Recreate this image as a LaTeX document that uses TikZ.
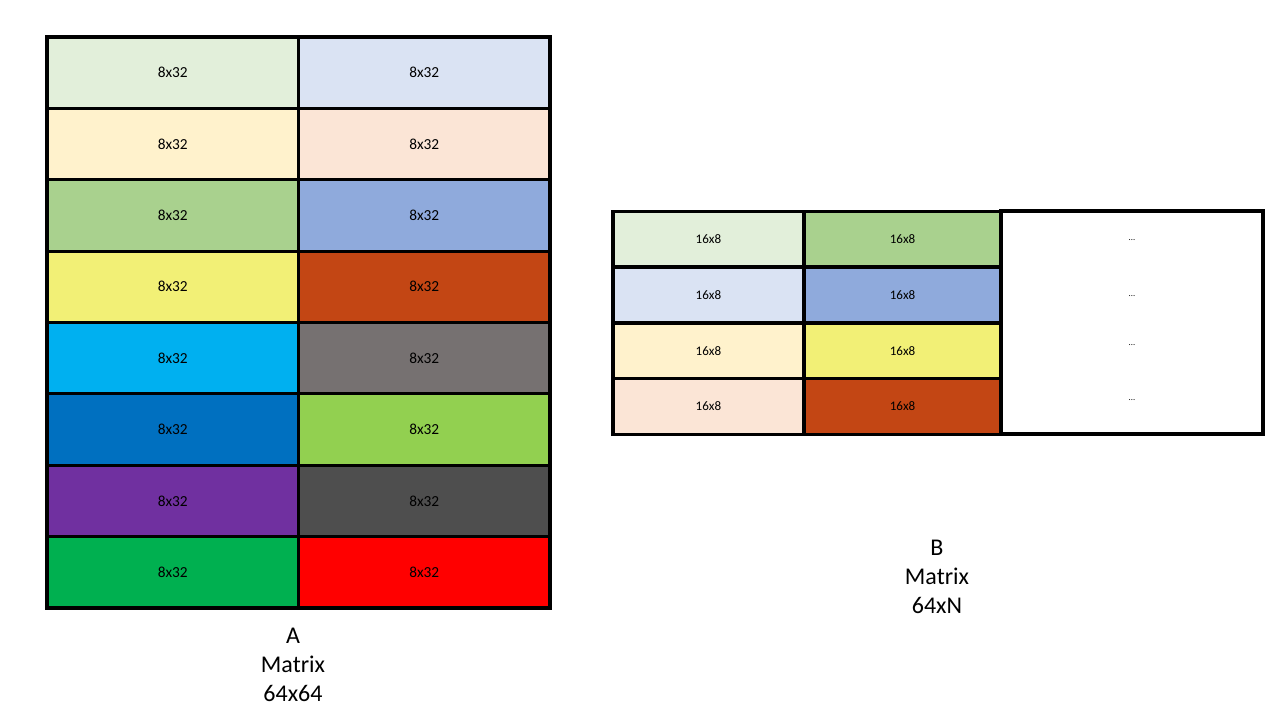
\documentclass[tikz,border=0pt]{standalone}
\usepackage{fontspec}
\setmainfont{Carlito}
\definecolor{a11}{HTML}{E2EFDA}\definecolor{a12}{HTML}{DAE3F3}
\definecolor{a21}{HTML}{FFF2CC}\definecolor{a22}{HTML}{FBE5D6}
\definecolor{a31}{HTML}{A9D18E}\definecolor{a32}{HTML}{8FAADC}
\definecolor{a41}{HTML}{F2F076}\definecolor{a42}{HTML}{C34614}
\definecolor{a51}{HTML}{00B0F0}\definecolor{a52}{HTML}{767171}
\definecolor{a61}{HTML}{0070C0}\definecolor{a62}{HTML}{92D050}
\definecolor{a71}{HTML}{7030A0}\definecolor{a72}{HTML}{4E4E4E}
\definecolor{a81}{HTML}{00B050}\definecolor{a82}{HTML}{FF0000}
\tikzset{
  cellA/.style={draw=black, line width=2.4pt, rectangle, inner sep=0pt,
    minimum width=188.6pt, minimum height=53.53pt, font=\fontsize{11.5}{13}\selectfont},
  cellB/.style={draw=black, line width=2.4pt, rectangle, inner sep=0pt,
    minimum width=143.25pt, minimum height=41.81pt, font=\fontsize{9.8}{11}\selectfont},
  dots/.style={inner sep=0pt, font=\fontsize{6.5}{7}\selectfont},
  lbl/.style={align=center, inner sep=0pt, font=\fontsize{18}{21.75}\selectfont}
}
\begin{document}
\begin{tikzpicture}[x=0.75pt, y=-0.75pt]
\useasboundingbox (0,0) rectangle (1280,720);
\fill[white] (0,0) rectangle (1280,720);
% Matrix A
\foreach \r in {1,...,8}{
  \pgfmathsetmacro{\yc}{37+71.375*(\r-0.5)}
  \node[cellA, fill=a\r1] (A\r1) at (172.75,\yc) {8x32};
  \node[cellA, fill=a\r2] (A\r2) at (424.25,\yc) {8x32};
}
\node[lbl] (labelA) at (293,665) {A\\Matrix\\64x64};
% Matrix B
\node[draw=black, line width=2.4pt, rectangle, inner sep=0pt, minimum width=196.5pt,
  minimum height=167.25pt, fill=white] (Brest) at (1132,322.5) {};
\node[cellB, fill=a11] (B11) at (708.5,239) {16x8};
\node[cellB, fill=a31, minimum width=147.75pt] (B12) at (902.5,239) {16x8};
\node[cellB, fill=a12] (B21) at (708.5,295) {16x8};
\node[cellB, fill=a32, minimum width=147.75pt] (B22) at (902.5,295) {16x8};
\node[cellB, fill=a21] (B31) at (708.5,351) {16x8};
\node[cellB, fill=a41, minimum width=147.75pt] (B32) at (902.5,351) {16x8};
\node[cellB, fill=a22] (B41) at (708.5,406.5) {16x8};
\node[cellB, fill=a42, minimum width=147.75pt] (B42) at (902.5,406.5) {16x8};
\node[dots] (d1) at (1132,240) {...};
\node[dots] (d2) at (1132,296) {...};
\node[dots] (d3) at (1132,345) {...};
\node[dots] (d4) at (1132,400) {...};
\node[lbl] (labelB) at (937,577) {B\\Matrix\\64xN};
\end{tikzpicture}
\end{document}
